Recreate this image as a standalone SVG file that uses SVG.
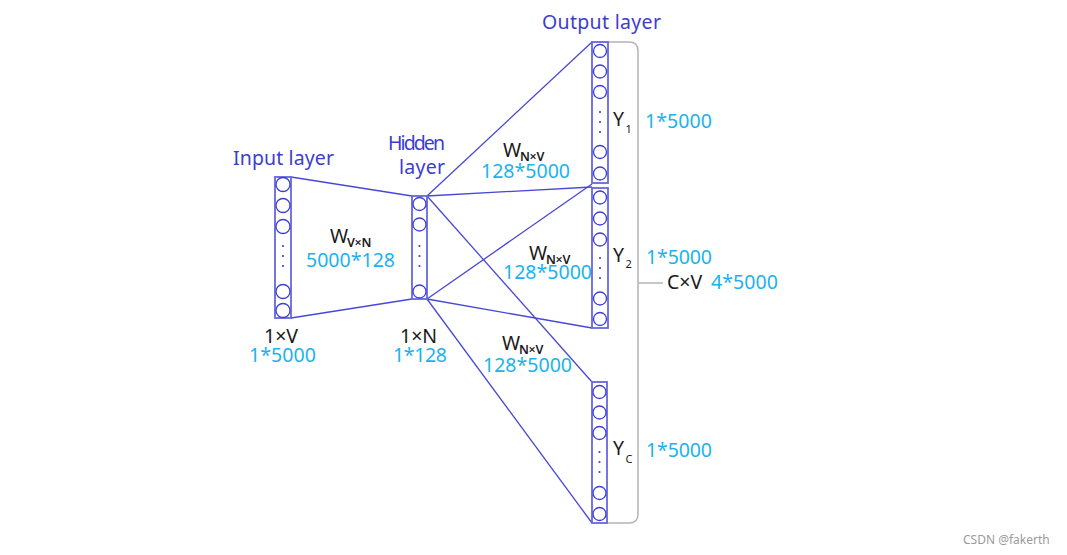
<svg xmlns="http://www.w3.org/2000/svg" width="1067" height="555" viewBox="0 0 1067 555">
<style>
.bg{fill:#ffffff}
.col{fill:#ffffff;stroke:#6666e0;stroke-width:1.8}
.neu{fill:#ffffff;stroke:#3f3fd4;stroke-width:1.3}
.dot{fill:#3f3fd4}
.ln{stroke:#4848d6;stroke-width:1.3;fill:none}
.br{stroke:#b4b4b4;stroke-width:1.5;fill:none}
.t{font-family:"Noto Sans","Open Sans","Liberation Sans",sans-serif}
.blue{fill:#3c3cd2;font-size:19.5px}
.cy{fill:#1ab2f0;font-size:19.5px}
.bk{fill:#1a1a1a;font-size:19.5px}
.sub{fill:#1a1a1a;font-size:11px}
.wsub{fill:#1a1a1a;font-size:12.5px;font-weight:600;letter-spacing:-0.3px}
.wm{fill:#9a9a9a;font-size:12px}
</style>
<rect class="bg" x="0" y="0" width="1067" height="555"/>
<g id="connectors">
<line class="ln" x1="291" y1="177" x2="412" y2="196"/>
<line class="ln" x1="291" y1="318" x2="412" y2="299"/>
<line class="ln" x1="427" y1="196" x2="592" y2="42"/>
<line class="ln" x1="427" y1="196" x2="592" y2="187"/>
<line class="ln" x1="427" y1="196" x2="592" y2="382"/>
<line class="ln" x1="427" y1="299" x2="592" y2="184"/>
<line class="ln" x1="427" y1="299" x2="592" y2="328"/>
<line class="ln" x1="427" y1="299" x2="592" y2="523"/>
<path class="br" d="M608,42 H629 Q638,42 638,51 V514 Q638,523 629,523 H607"/>
<line class="br" x1="638" y1="283" x2="663" y2="283"/>
</g>
<g id="input">
<rect class="col" x="275" y="177" width="16" height="141"/>
<circle class="neu" cx="283" cy="184.5" r="7"/>
<circle class="neu" cx="283" cy="205.5" r="7"/>
<circle class="neu" cx="283" cy="226.5" r="7"/>
<circle class="dot" cx="283" cy="246" r="1.1"/>
<circle class="dot" cx="283" cy="256" r="1.1"/>
<circle class="dot" cx="283" cy="266" r="1.1"/>
<circle class="neu" cx="283" cy="291.5" r="7"/>
<circle class="neu" cx="283" cy="310.5" r="7"/>
<text class="t blue" x="233" y="165" textLength="101">Input layer</text>
<text class="t bk" x="264" y="343">1×V</text>
<text class="t cy" x="249" y="362" textLength="67">1*5000</text>
</g>
<g id="hidden">
<rect class="col" x="412" y="196" width="15" height="103"/>
<circle class="neu" cx="419.5" cy="204" r="6.5"/>
<circle class="neu" cx="419.5" cy="224.5" r="6.5"/>
<circle class="dot" cx="419.5" cy="246" r="1.1"/>
<circle class="dot" cx="419.5" cy="256" r="1.1"/>
<circle class="dot" cx="419.5" cy="266" r="1.1"/>
<circle class="neu" cx="419.5" cy="291.5" r="6.5"/>
<text class="t blue" x="388" y="150" textLength="57">Hidden</text>
<text class="t blue" x="399" y="174" textLength="46">layer</text>
<text class="t bk" x="400" y="343">1×N</text>
<text class="t cy" x="393" y="362" textLength="54">1*128</text>
</g>
<g id="w-input">
<text class="t bk" x="330" y="243" font-size="19">W</text>
<text class="t wsub" x="347" y="247">V×N</text>
<text class="t cy" x="306" y="267" textLength="89">5000*128</text>
</g>
<g id="w-out1">
<text class="t bk" x="503" y="157" font-size="19">W</text>
<text class="t wsub" x="520" y="161">N×V</text>
<text class="t cy" x="481" y="178" textLength="89">128*5000</text>
</g>
<g id="w-out2">
<text class="t bk" x="529" y="260" font-size="19">W</text>
<text class="t wsub" x="546" y="264">N×V</text>
<text class="t cy" x="503" y="279" textLength="89">128*5000</text>
</g>
<g id="w-outc">
<text class="t bk" x="502" y="350" font-size="19">W</text>
<text class="t wsub" x="519" y="354">N×V</text>
<text class="t cy" x="483" y="372" textLength="89">128*5000</text>
</g>
<g id="output1">
<rect class="col" x="592" y="42" width="16" height="141"/>
<circle class="neu" cx="600" cy="51" r="6.5"/>
<circle class="neu" cx="600" cy="71.5" r="6.5"/>
<circle class="neu" cx="600" cy="92" r="6.5"/>
<circle class="dot" cx="600" cy="112" r="1.1"/>
<circle class="dot" cx="600" cy="122" r="1.1"/>
<circle class="dot" cx="600" cy="132" r="1.1"/>
<circle class="neu" cx="600" cy="152" r="6.5"/>
<circle class="neu" cx="600" cy="173.5" r="6.5"/>
<text class="t blue" x="542" y="29" textLength="119">Output layer</text>
<text class="t bk" x="613" y="126">Y</text>
<text class="t sub" x="625.5" y="133">1</text>
<text class="t cy" x="645" y="128" textLength="67">1*5000</text>
</g>
<g id="output2">
<rect class="col" x="592" y="188" width="16" height="140"/>
<circle class="neu" cx="600" cy="197.5" r="6.5"/>
<circle class="neu" cx="600" cy="218.5" r="6.5"/>
<circle class="neu" cx="600" cy="239.5" r="6.5"/>
<circle class="dot" cx="600" cy="258" r="1.1"/>
<circle class="dot" cx="600" cy="268" r="1.1"/>
<circle class="dot" cx="600" cy="278" r="1.1"/>
<circle class="neu" cx="600" cy="298.5" r="6.5"/>
<circle class="neu" cx="600" cy="319" r="6.5"/>
<text class="t bk" x="613" y="262">Y</text>
<text class="t sub" x="625.5" y="268">2</text>
<text class="t cy" x="646" y="264" textLength="66">1*5000</text>
</g>
<g id="outputc">
<rect class="col" x="592" y="382" width="15" height="141"/>
<circle class="neu" cx="599.5" cy="392" r="6.5"/>
<circle class="neu" cx="599.5" cy="412.5" r="6.5"/>
<circle class="neu" cx="599.5" cy="433" r="6.5"/>
<circle class="dot" cx="599.5" cy="452" r="1.1"/>
<circle class="dot" cx="599.5" cy="462" r="1.1"/>
<circle class="dot" cx="599.5" cy="472" r="1.1"/>
<circle class="neu" cx="599.5" cy="493" r="6.5"/>
<circle class="neu" cx="599.5" cy="514" r="6.5"/>
<text class="t bk" x="613" y="455">Y</text>
<text class="t sub" x="625.5" y="463">C</text>
<text class="t cy" x="646" y="457" textLength="66">1*5000</text>
</g>
<g id="total">
<text class="t bk" x="667" y="289">C×V</text>
<text class="t cy" x="711" y="289" textLength="67">4*5000</text>
</g>
<text class="t wm" x="963" y="544">CSDN @fakerth</text>
</svg>
